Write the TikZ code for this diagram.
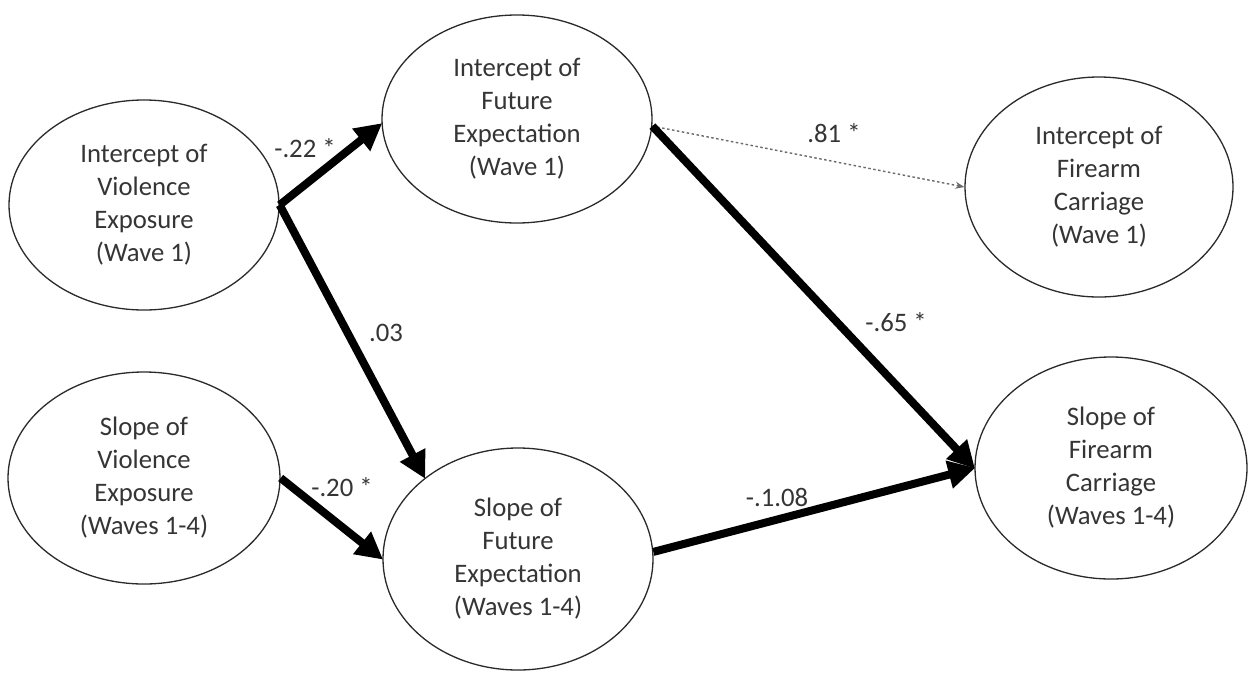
\documentclass[tikz,border=0pt]{standalone}
\usepackage{fontspec}
\setmainfont{Carlito}
\usetikzlibrary{arrows.meta,shapes.geometric}
\definecolor{txt}{HTML}{353535}
\definecolor{edge}{HTML}{2A2A2A}
\definecolor{dotc}{HTML}{6A6A6A}
\tikzset{
  ell/.style={ellipse, draw=edge, line width=1.3pt, inner sep=0pt, align=center,
    text=txt, font=\fontsize{26.7pt}{33pt}\selectfont},
  lbl/.style={text=txt, inner sep=0pt, font=\fontsize{26.7pt}{33pt}\selectfont},
  path/.style={line width=8pt, draw=black, -{Triangle[length=27pt,width=27pt]}, shorten >=-1pt},
  weak/.style={line width=1.4pt, draw=dotc, dash pattern=on 2.5pt off 2.5pt, -{Stealth[length=9pt,width=7pt]}}
}
\begin{document}
\begin{tikzpicture}[x=1pt,y=-1pt]
\useasboundingbox[fill=white] (0,0) rectangle (1255,673);
\node[ell, minimum width=270pt, minimum height=210pt] (e1) at (144,205) {Intercept of\\Violence\\Exposure\\(Wave 1)};
\node[ell, minimum width=270pt, minimum height=208pt] (e2) at (517,119) {Intercept of\\Future\\Expectation\\(Wave 1)};
\node[ell, minimum width=268pt, minimum height=220pt] (e3) at (1099,187) {Intercept of\\Firearm\\Carriage\\(Wave 1)};
\node[ell, minimum width=272pt, minimum height=212pt] (e4) at (144,478) {Slope of\\Violence\\Exposure\\(Waves 1-4)};
\node[ell, minimum width=270pt, minimum height=222pt] (e5) at (518,559) {Slope of\\Future\\Expectation\\(Waves 1-4)};
\node[ell, minimum width=272pt, minimum height=222pt] (e6) at (1111,468) {Slope of\\Firearm\\Carriage\\(Waves 1-4)};

\draw[path] (e1.east) -- (e2.182);
\draw[path] (e1.east) -- (e5.139);
\draw[path] (e4.east) -- (e5.west);
\draw[weak] (e2.-3) -- (e3.west);
\draw[path] (e2.-3) -- (e6.west);
\draw[path] (e5.3) -- (e6.west);

\node[lbl] (l1) at (305,148) {-.22 *};
\node[lbl] (l2) at (386,333) {.03};
\node[lbl] (l3) at (342,487) {-.20 *};
\node[lbl] (l4) at (834,133) {.81 *};
\node[lbl] (l5) at (896,322) {-.65 *};
\node[lbl] (l6) at (777,497) {-.1.08};
\end{tikzpicture}
\end{document}
